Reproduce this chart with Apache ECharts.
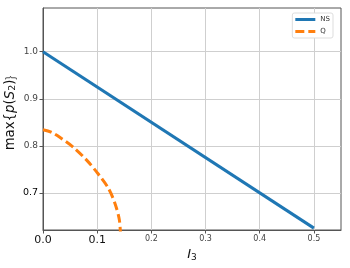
<!DOCTYPE html>
<html><head><meta charset="utf-8">
<script src="https://cdn.jsdelivr.net/npm/echarts@6/dist/echarts.min.js"></script>
<style>html,body{margin:0;padding:0;background:#fff}#c{width:350px;height:268px}</style>
</head><body><div id="c"></div>
<script>
var xTicks = [0.0, 0.1, 0.2, 0.3, 0.4, 0.5];
var yTicks = [0.7, 0.8, 0.9, 1.0];
var bigLabels = ['0.0', '0.1', '0.7'];
var nsX = [0.0, 0.5];
var nsY = [1.0, 0.625];
var qX = [0.0, 0.015, 0.031, 0.056, 0.081, 0.102, 0.121, 0.133, 0.141, 0.1435];
var qY = [0.834, 0.829, 0.818, 0.797, 0.769, 0.740, 0.709, 0.677, 0.642, 0.600];
var seriesNames = ['NS', 'Q'];

function pairs(xs, ys){ return xs.map(function(x,i){return [x, ys[i]];}); }
function fmt(v){ var s = v.toFixed(1); return bigLabels.indexOf(s) >= 0 ? '{b|' + s + '}' : '{s|' + s + '}'; }
var richX = { s: {fontSize: 8, color: '#444', fontFamily: 'DejaVu Sans'}, b: {fontSize: 11, color: '#111', fontFamily: 'DejaVu Sans'} };
var richY = { s: {fontSize: 9, color: '#444', fontFamily: 'DejaVu Sans'}, b: {fontSize: 9.5, color: '#000', fontFamily: 'DejaVu Sans'} };

var chart = echarts.init(document.getElementById('c'));
chart.setOption({
  animation: false,
  grid: {left: 43, right: 9, top: 8, bottom: 38, show: true, borderColor: '#555', borderWidth: 1, containLabel: false, outerBoundsMode: 'none'},
  legend: {
    right: 17, top: 13, orient: 'vertical', padding: [3, 3, 3, 3], itemGap: 5,
    itemWidth: 20, itemHeight: 3, backgroundColor: '#fff', borderColor: '#ddd', borderWidth: 1, borderRadius: 2,
    textStyle: {fontSize: 7, color: '#333', fontFamily: 'DejaVu Sans'},
    data: [
      {name: seriesNames[0], icon: 'path://M0,0H20V3H0Z'},
      {name: seriesNames[1], icon: 'path://M0,0H9V3H0Z M13,0H20V3H13Z'}
    ]
  },
  xAxis: {
    type: 'value', min: 0, max: 0.55,
    name: '{i|I}{sub|3}', nameLocation: 'middle', nameGap: 17, nameMoveOverlap: false,
    nameTextStyle: {rich: {i: {fontSize: 13, fontStyle: 'italic', fontFamily: 'DejaVu Sans', color: '#111'}, sub: {fontSize: 9, fontFamily: 'DejaVu Sans', color: '#111', verticalAlign: 'bottom', padding: [6,0,0,0]}}},
    axisLine: {show: true, lineStyle: {color: '#555', width: 1}},
    axisTick: {show: true, length: 3.5, lineStyle: {color: '#555'}, customValues: xTicks},
    axisLabel: {customValues: xTicks, formatter: fmt, rich: richX, margin: 5},
    splitLine: {show: true, lineStyle: {color: '#cfcfcf', width: 1}}
  },
  yAxis: {
    type: 'value', min: 0.621, max: 1.093,
    name: '{n|max{}{i|p}{n|(}{i|S}{sub|2}{n|)}}', nameLocation: 'middle', nameGap: 25, nameMoveOverlap: false,
    nameTextStyle: {padding: [0, 0, 0, 12], rich: {
      n: {fontSize: 13.3, color: '#111', fontFamily: 'DejaVu Sans'},
      i: {fontSize: 13.3, color: '#111', fontFamily: 'DejaVu Sans', fontStyle: 'italic'},
      sub: {fontSize: 9.5, color: '#111', fontFamily: 'DejaVu Sans', verticalAlign: 'bottom', padding: [5,0,0,0]}
    }},
    axisLine: {show: true, lineStyle: {color: '#555', width: 1}},
    axisTick: {show: true, length: 3.5, lineStyle: {color: '#555'}, customValues: yTicks},
    axisLabel: {customValues: yTicks, formatter: fmt, rich: richY, margin: 5},
    splitLine: {show: true, lineStyle: {color: '#cfcfcf', width: 1}}
  },
  series: [
    {name: seriesNames[0], type: 'line', data: pairs(nsX, nsY), symbol: 'none', clip: true,
     lineStyle: {color: '#1f77b4', width: 3}, itemStyle: {color: '#1f77b4'}},
    {name: seriesNames[1], type: 'line', data: pairs(qX, qY), symbol: 'none', smooth: 0.3, clip: true,
     lineStyle: {color: '#ff7f0e', width: 3, type: [9, 4]}, itemStyle: {color: '#ff7f0e'}}
  ]
});
</script></body></html>
